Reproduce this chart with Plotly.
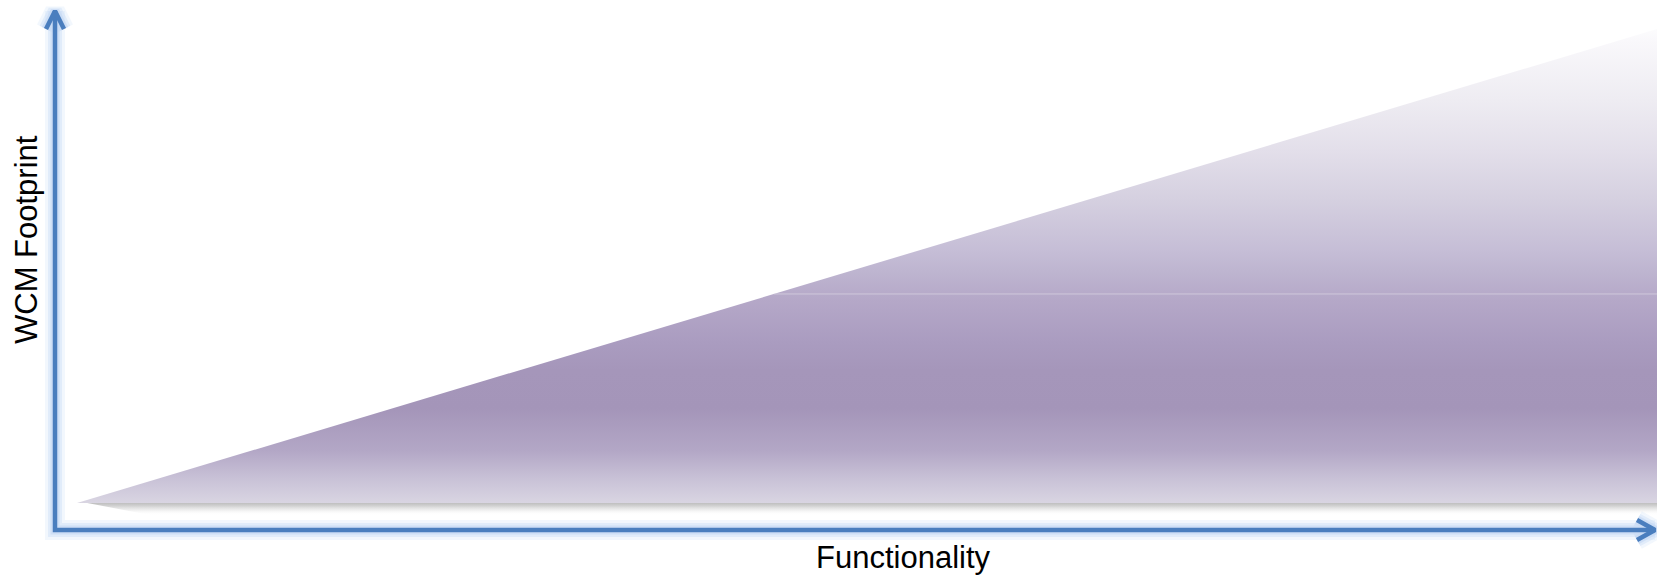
import plotly.graph_objects as go

# ---------------- data ----------------
functionality = [0, 100, 100, 0]      # triangle: footprint grows with functionality
wcm_footprint = [0, 100, 0, 0]
x_title = "Functionality"
y_title = "WCM Footprint"
band_level = [44.1]                    # faint band across the fill

# ---------------- geometry (pixel layout of the picture) ----------------
W, H = 1657, 575
X0_PX, X1_PX = 77, 1657      # pixel columns of x=0 and x=100
Y0_PX, Y1_PX = 503, 29       # pixel rows of y=0 and y=100
sx = (X1_PX - X0_PX) / 100.0
sy = (Y0_PX - Y1_PX) / 100.0


def px2x(p):
    return (p - X0_PX) / sx


def px2y(p):
    return (Y0_PX - p) / sy


x_range = [px2x(0), px2x(W)]
y_range = [px2y(H), px2y(0)]

AX_X_PX, AX_Y_PX = 55, 530
TOP_TIP_PX, RIGHT_TIP_PX = 11, 1655

fig = go.Figure()

# soft shadow under the wedge (tapered at the left end)
sh_top, sh_bot = px2y(502), px2y(515)
fig.add_trace(go.Scatter(
    x=[px2x(82), 100, 100, px2x(150), px2x(82)],
    y=[sh_top, sh_top, sh_bot, sh_bot, sh_top],
    mode="lines", line=dict(width=0), fill="toself",
    fillgradient=dict(type="vertical", start=sh_bot, stop=sh_top,
                      colorscale=[[0, "rgba(255,255,255,0)"],
                                  [0.35, "rgba(215,215,215,0.35)"],
                                  [0.7, "rgba(190,190,190,0.7)"],
                                  [1, "rgba(175,175,175,0.9)"]]),
    hoverinfo="skip", showlegend=False, cliponaxis=False))

# the wedge with a vertical gradient
fig.add_trace(go.Scatter(
    x=functionality, y=wcm_footprint,
    mode="lines", line=dict(width=0), fill="toself",
    fillgradient=dict(type="vertical", start=0, stop=100,
                      colorscale=[[0.0, "#D9D5E2"],
                                  [0.05, "#C9C2D7"],
                                  [0.11, "#B3A7C6"],
                                  [0.20, "#A495B9"],
                                  [0.28, "#A596BA"],
                                  [0.34, "#AA9CC0"],
                                  [0.43, "#B5A8C8"],
                                  [0.49, "#BEB5D0"],
                                  [0.53, "#C5BDD6"],
                                  [0.64, "#D5D0E0"],
                                  [0.745, "#E3DFEA"],
                                  [0.85, "#EEECF2"],
                                  [0.975, "#F9F8FB"],
                                  [1.0, "#FCFCFD"]]),
    hoverinfo="skip", showlegend=False))

# faint band line
fig.add_trace(go.Scatter(
    x=[band_level[0], 100], y=[band_level[0], band_level[0]],
    mode="lines", line=dict(width=1, color="rgba(225,220,232,0.6)"),
    hoverinfo="skip", showlegend=False))

# axes with arrowheads (glow + main stroke)
axis_x = [px2x(AX_X_PX), px2x(AX_X_PX), px2x(RIGHT_TIP_PX), None,
          px2x(AX_X_PX - 9), px2x(AX_X_PX), px2x(AX_X_PX + 9), None,
          px2x(RIGHT_TIP_PX - 18), px2x(RIGHT_TIP_PX), px2x(RIGHT_TIP_PX - 18)]
axis_y = [px2y(TOP_TIP_PX), px2y(AX_Y_PX), px2y(AX_Y_PX), None,
          px2y(TOP_TIP_PX + 18), px2y(TOP_TIP_PX), px2y(TOP_TIP_PX + 18), None,
          px2y(AX_Y_PX - 10), px2y(AX_Y_PX), px2y(AX_Y_PX + 10)]

for w, c in [(20, "rgba(205,222,246,0.25)"),
             (14, "rgba(205,222,246,0.45)"),
             (9, "rgba(200,218,244,0.7)"),
             (4.5, "#4A7EBE")]:
    fig.add_trace(go.Scatter(
        x=axis_x, y=axis_y, mode="lines",
        line=dict(width=w, color=c),
        hoverinfo="skip", showlegend=False, cliponaxis=False))

fig.add_annotation(text=x_title, xref="paper", yref="paper",
                   x=903 / W, y=1 - 557 / H, xanchor="center", yanchor="middle",
                   showarrow=False,
                   font=dict(family="Liberation Sans, Arial", size=31, color="#000000"))
fig.add_annotation(text=y_title, xref="paper", yref="paper",
                   x=26 / W, y=1 - 240 / H, xanchor="center", yanchor="middle",
                   textangle=-90, showarrow=False,
                   font=dict(family="Liberation Sans, Arial", size=31, color="#000000"))

fig.update_layout(
    width=W, height=H, autosize=False,
    margin=dict(l=0, r=0, t=0, b=0, pad=0),
    paper_bgcolor="white", plot_bgcolor="white",
    xaxis=dict(range=x_range, visible=False, showgrid=False, zeroline=False, fixedrange=True),
    yaxis=dict(range=y_range, visible=False, showgrid=False, zeroline=False, fixedrange=True),
    showlegend=False,
)

fig.write_html(
    "out.html",
    config={"displayModeBar": False},
    post_script="document.documentElement.style.margin='0';"
                "document.body.style.margin='0';document.body.style.padding='0';"
                "document.body.style.overflow='hidden';"
                "document.documentElement.style.overflow='hidden';",
)
